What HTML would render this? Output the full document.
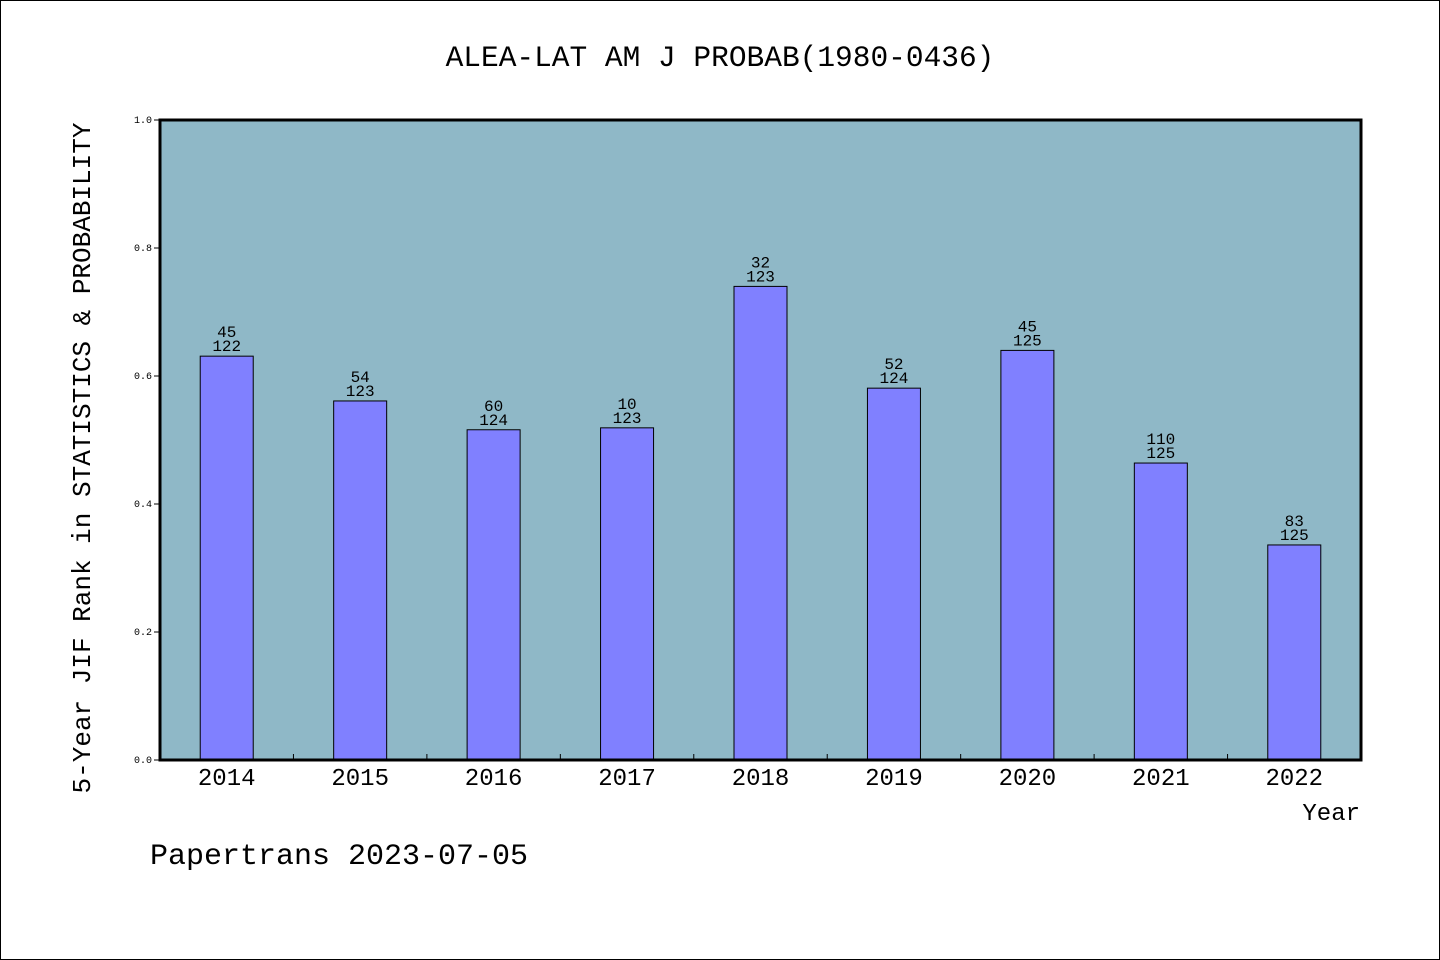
<!DOCTYPE html>
<html><head><meta charset="utf-8"><style>
html,body{margin:0;padding:0;background:#fff}
svg{display:block}
text{font-family:"Liberation Mono","Noto Sans CJK SC",monospace;fill:#000}
</style></head><body>
<svg id="chart" width="1440" height="960" xmlns="http://www.w3.org/2000/svg">
<rect x="0.5" y="0.5" width="1439" height="959" fill="#fff" stroke="#000"/>
<text x="720" y="66" text-anchor="middle" font-size="29.5">ALEA-LAT AM J PROBAB(1980-0436)</text>
<rect x="160" y="120" width="1201" height="640" fill="#8fb8c7"/>
<g id="bars"></g>
<rect x="160" y="120" width="1201" height="640" fill="none" stroke="#000" stroke-width="3"/>
<g id="axes"></g>
<text transform="translate(90,458) rotate(-90)" text-anchor="middle" font-size="26">5-Year JIF Rank in STATISTICS &amp; PROBABILITY</text>
<text x="1360" y="820" text-anchor="end" font-size="24">Year</text>
<text x="150" y="864" font-size="30">Papertrans 2023-07-05</text>
</svg>
<script>
const years=["2014","2015","2016","2017","2018","2019","2020","2021","2022"];
const ranks=[45,54,60,10,32,52,45,110,83];
const totals=[122,123,124,123,123,124,125,125,125];
const values=[0.631,0.561,0.516,0.519,0.740,0.581,0.640,0.464,0.336];
const yTicks=[0,0.2,0.4,0.6,0.8,1.0];
const NS="http://www.w3.org/2000/svg";
const X0=160,X1=1361,Y0=760,Y1=120;
const band=(X1-X0)/years.length;
const xc=i=>X0+band*(i+0.5);
const y=v=>Y0-(Y0-Y1)*v;
function mk(t,a,p){const e=document.createElementNS(NS,t);for(const k in a)e.setAttribute(k,a[k]);p.appendChild(e);return e;}
const gb=document.getElementById('bars'),ga=document.getElementById('axes');
years.forEach((yr,i)=>{
  const v=values[i],bw=53;
  const r=mk('rect',{x:xc(i)-bw/2,y:y(v),width:bw,height:Y0-y(v),fill:'#8080ff',stroke:'#000','stroke-width':1},gb);
  
  
  const t1=mk('text',{x:xc(i),y:y(v)-19,'text-anchor':'middle','font-size':16},gb);
  t1.textContent=ranks[i];
  
  
  const t2=mk('text',{x:xc(i),y:y(v)-5,'text-anchor':'middle','font-size':16},gb);
  t2.textContent=totals[i];
  
  
  const xl=mk('text',{x:xc(i),y:785,'text-anchor':'middle','font-size':24},ga);
  xl.textContent=yr;
  
  
  if(i>0){const tk=mk('line',{x1:X0+band*i,x2:X0+band*i,y1:Y0,y2:Y0-6,stroke:'#000'},ga);
  
  }
});
yTicks.forEach(v=>{
  const tk=mk('line',{x1:X0,x2:X0-6,y1:y(v),y2:y(v),stroke:'#000'},ga);
  
  
  const tl=mk('text',{x:152,y:y(v)+3,'text-anchor':'end','font-size':10},ga);
  tl.textContent=v.toFixed(1);
  
  
});
</script>
</body></html>
